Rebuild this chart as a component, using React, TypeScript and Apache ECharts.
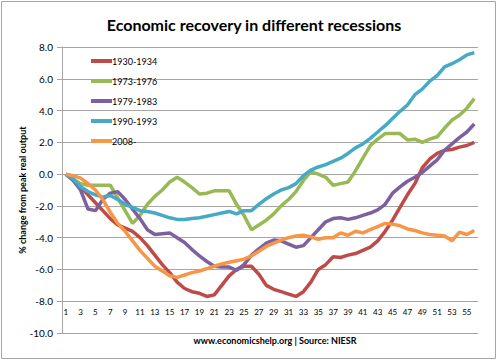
import React, { useEffect, useRef } from "react";
import * as echarts from "echarts";

const periods: string[] = Array.from({ length: 56 }, (_, i) => String(i + 1));

const seriesNames = ["1930-1934", "1973-1976", "1979-1983", "1990-1993", "2008-"];

const r1930 = [0, -0.3, -0.8, -1.3, -1.8, -2.3, -2.8, -3.2, -3.4, -3.6, -4.0, -4.5, -5.1, -5.7, -6.2, -6.8, -7.2, -7.4, -7.5, -7.7, -7.6, -7.0, -6.4, -6.0, -5.8, -5.8, -6.3, -7.0, -7.25, -7.4, -7.55, -7.7, -7.4, -6.8, -6.0, -5.7, -5.2, -5.25, -5.1, -5.0, -4.8, -4.6, -4.2, -3.6, -2.9, -2.1, -1.3, -0.6, 0.4, 0.95, 1.3, 1.5, 1.55, 1.7, 1.8, 2.0];
const r1973 = [0, -0.3, -0.6, -0.7, -0.7, -0.7, -0.7, -1.5, -2.3, -3.1, -2.6, -1.9, -1.4, -1.0, -0.5, -0.2, -0.5, -0.85, -1.25, -1.2, -1.05, -1.05, -1.05, -1.9, -2.6, -3.5, -3.2, -2.9, -2.5, -2.0, -1.6, -1.1, -0.4, 0.15, 0.0, -0.2, -0.7, -0.6, -0.5, 0.2, 1.0, 1.8, 2.2, 2.55, 2.55, 2.55, 2.15, 2.2, 2.0, 2.2, 2.35, 2.9, 3.4, 3.7, 4.15, 4.75];
const r1979 = [0, -0.4, -1.0, -2.2, -2.3, -1.6, -1.2, -1.1, -1.6, -2.2, -2.8, -3.5, -3.8, -3.75, -3.7, -4.0, -4.3, -4.75, -5.15, -5.5, -5.8, -5.85, -5.85, -6.05, -5.7, -5.1, -4.7, -4.35, -4.15, -4.2, -4.4, -4.6, -4.5, -4.0, -3.5, -3.0, -2.8, -2.75, -2.85, -2.75, -2.6, -2.45, -2.25, -1.9, -1.2, -0.8, -0.45, -0.2, 0.1, 0.5, 0.9, 1.5, 1.9, 2.3, 2.65, 3.15];
const r1990 = [0, -0.3, -0.8, -1.1, -1.3, -1.45, -1.35, -1.6, -1.9, -2.1, -2.3, -2.35, -2.45, -2.6, -2.75, -2.85, -2.85, -2.8, -2.75, -2.65, -2.55, -2.45, -2.35, -2.5, -2.3, -2.3, -1.9, -1.55, -1.25, -1.0, -0.85, -0.6, -0.1, 0.25, 0.45, 0.6, 0.8, 1.0, 1.3, 1.65, 1.9, 2.25, 2.65, 3.05, 3.5, 3.95, 4.35, 5.0, 5.35, 5.85, 6.2, 6.75, 6.95, 7.2, 7.5, 7.65];
const r2008 = [0, -0.1, -0.25, -0.6, -1.0, -1.6, -2.4, -3.1, -3.6, -4.2, -4.8, -5.3, -5.8, -6.1, -6.4, -6.5, -6.35, -6.2, -6.1, -5.95, -5.8, -5.65, -5.55, -5.45, -5.35, -5.15, -4.85, -4.55, -4.35, -4.15, -4.0, -3.9, -3.85, -3.95, -4.1, -4.0, -4.0, -3.7, -3.85, -3.6, -3.7, -3.5, -3.3, -3.1, -3.15, -3.25, -3.45, -3.55, -3.7, -3.8, -3.85, -3.9, -4.2, -3.65, -3.8, -3.55];

const seriesData = [r1930, r1973, r1979, r1990, r2008];
const colors = ["#BE4B48", "#98B954", "#7D60A0", "#46AAC5", "#F79646"];

const titleText = "Economic recovery in different recessions";
const footerText = "www.economicshelp.org | Source: NIESR";
const yAxisName = "% change from peak real output";

const FONT = "Lato, 'Open Sans', sans-serif";

export default function App() {
  const ref = useRef<HTMLDivElement>(null);
  useEffect(() => {
    if (!ref.current) return;
    const chart = echarts.init(ref.current, undefined, { renderer: "svg" });
    chart.setOption({
      animation: false,
      backgroundColor: "#ffffff",
      textStyle: { fontFamily: FONT },
      title: [
        {
          text: titleText,
          left: 249,
          top: 11,
          textAlign: "center",
          textStyle: { fontFamily: FONT, fontSize: 16, fontWeight: "bold", color: "#000" },
        },
        {
          text: footerText,
          left: 270,
          top: 331,
          textAlign: "center",
          textStyle: { fontFamily: FONT, fontSize: 9, fontWeight: "bold", color: "#000" },
        },
      ],
      graphic: [
        {
          type: "rect",
          shape: { x: 1.5, y: 1.5, width: 494, height: 357 },
          style: { fill: "none", stroke: "#a6a6a6", lineWidth: 1 },
          silent: true,
        },
      ],
      legend: {
        orient: "vertical",
        left: 86,
        top: 50,
        itemWidth: 21,
        itemHeight: 4,
        itemGap: 8,
        icon: "rect",
        data: seriesNames,
        textStyle: { fontFamily: FONT, fontSize: 9, color: "#000", padding: [0, 0, 0, -5], lineHeight: 12 },
      },
      grid: { left: 62, right: 22, top: 47, bottom: 29 },
      xAxis: {
        type: "category",
        data: periods,
        boundaryGap: true,
        axisLine: { show: true, lineStyle: { color: "#a6a6a6", width: 1 } },
        axisTick: { show: false },
        axisLabel: {
          inside: true,
          interval: 1,
          margin: 17,
          fontSize: 8,
          color: "#000",
          fontFamily: FONT,
        },
        splitLine: { show: false },
      },
      yAxis: {
        type: "value",
        min: -10,
        max: 8,
        interval: 2,
        name: yAxisName,
        nameLocation: "middle",
        nameGap: 35,
        nameRotate: 90,
        nameMoveOverlap: false,
        nameTextStyle: { fontFamily: FONT, fontSize: 9, fontWeight: "bold", color: "#000" },
        axisLine: { show: true, lineStyle: { color: "#a6a6a6", width: 1 } },
        axisTick: { show: true, length: 5, lineStyle: { color: "#a6a6a6" } },
        axisLabel: {
          margin: 9,
          fontSize: 10,
          color: "#000",
          fontFamily: FONT,
          formatter: (v: number) => v.toFixed(1),
        },
        splitLine: { show: true, lineStyle: { color: "#a6a6a6", width: 1 } },
      },
      series: seriesNames.map((name, i) => ({
        name,
        type: "line",
        data: seriesData[i],
        showSymbol: false,
        symbol: "none",
        lineStyle: { color: colors[i], width: 3.5 },
        itemStyle: { color: colors[i] },
        z: 2,
      })),
    });
    return () => chart.dispose();
  }, []);
  return (
    <div
      ref={ref}
      style={{ position: "absolute", left: 0, top: 0, width: 500, height: 362 }}
    />
  );
}
